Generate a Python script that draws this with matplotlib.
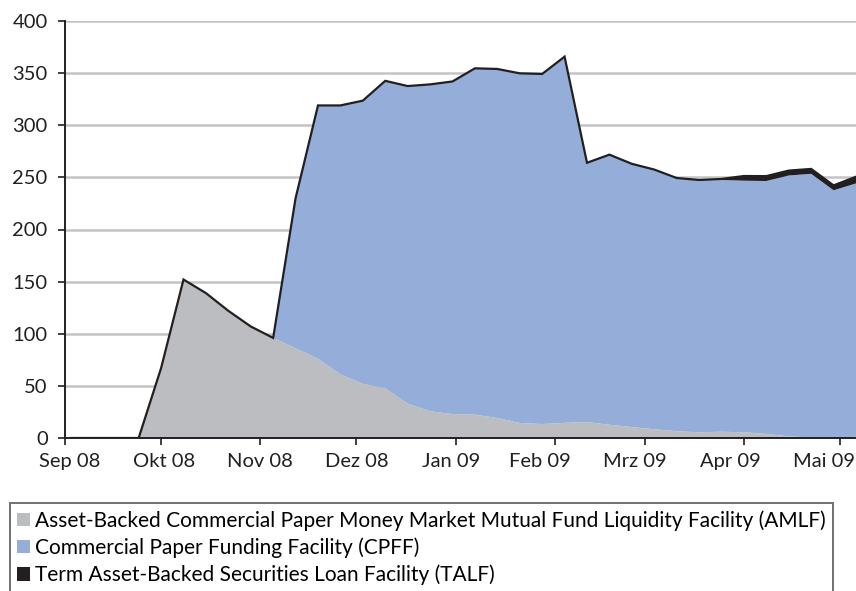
import matplotlib
matplotlib.use("Agg")
import matplotlib.pyplot as plt
import matplotlib.transforms as mtransforms
import numpy as np
import pandas as pd
from matplotlib.patches import Patch

# weekly data (Wednesdays), Mrd. USD
dates = pd.date_range("2008-09-03", "2009-05-06", freq="7D")
amlf = [0, 0, 0, 0, 67, 152, 139, 122, 107, 96, 86, 76, 61, 52, 47.6, 33,
        25.7, 23, 22.4, 19.2, 14.4, 13.4, 14.5, 15.3, 12.7, 10.5, 8.4, 6.5,
        5.5, 6, 5.5, 4, 1.5, 0.5, 0, 1.2]
cpff = [0, 0, 0, 0, 0, 0, 0, 0, 0, 0, 144, 243, 258, 271.6, 295, 304.6,
        313.5, 319, 332.2, 334.8, 335.4, 335.8, 351.3, 248.7, 259.1, 252.5,
        249.1, 242.9, 242, 241.5, 241.3, 242.5, 250.3, 252.9, 237.6, 243]
talf = [0] * 29 + [1, 4.5, 4.7, 4.7, 4.7, 4.7, 6.4]

month_ticks = pd.date_range("2008-09-01", "2009-05-01", freq="MS")
month_labels = ["Sep 08", "Okt 08", "Nov 08", "Dez 08", "Jan 09",
                "Feb 09", "Mrz 09", "Apr 09", "Mai 09"]
series_names = [
    "Asset-Backed Commercial Paper Money Market Mutual Fund Liquidity Facility (AMLF)",
    "Commercial Paper Funding Facility (CPFF)",
    "Term Asset-Backed Securities Loan Facility (TALF)",
]
colors = ["#bcbdc0", "#95aed9", "#231f20"]

plt.rcParams["font.family"] = ["Lato", "DejaVu Sans"]

fig = plt.figure(figsize=(8.56, 5.91), dpi=100)
ax = fig.add_axes([65 / 856, 1 - 438 / 591, 1 - 65 / 856, (438 - 21) / 591])

ax.stackplot(dates, amlf, cpff, talf, colors=colors, linewidth=0)
total = np.array(amlf) + np.array(cpff) + np.array(talf)
ax.plot(dates, total, color="#231f20", lw=1.6, solid_joinstyle="miter")

ax.set_xlim(pd.Timestamp("2008-09-01"), pd.Timestamp("2009-05-06"))
ax.set_ylim(0, 400)
ax.set_yticks(range(0, 401, 50))
ax.set_xticks(month_ticks)
ax.set_xticklabels(month_labels)

ax.grid(axis="y", color="#c4c4c6", lw=1.8)
ax.set_axisbelow(True)
for s in ["top", "right"]:
    ax.spines[s].set_visible(False)
for s in ["left", "bottom"]:
    ax.spines[s].set_color("#231f20")
    ax.spines[s].set_linewidth(1.4)
ax.tick_params(axis="both", labelsize=14.5, colors="#231f20", width=1.2, length=5)
ax.tick_params(axis="x", pad=6)
ax.tick_params(axis="y", pad=7.5)

# the month labels in the original sit slightly left of their ticks
label_shift = [5, 3, 0, 0, -5, -15, -10, -14, -16]
for lab, dx in zip(ax.get_xticklabels(), label_shift):
    lab.set_transform(lab.get_transform() +
                      mtransforms.ScaledTranslation(dx / 100, 0, fig.dpi_scale_trans))

handles = [Patch(facecolor=c, edgecolor="none") for c in colors]
leg = fig.legend(handles, series_names, loc="upper left",
                 bbox_to_anchor=(10 / 856, 1 - 503 / 591), fontsize=15,
                 frameon=True, fancybox=False, handlelength=0.6,
                 handleheight=0.6, handletextpad=0.25, labelspacing=0.32,
                 borderpad=0.35, borderaxespad=0)
leg.get_frame().set_edgecolor("#4d4d4f")
leg.get_frame().set_linewidth(1.4)

fig.savefig("out.png", dpi=100)
